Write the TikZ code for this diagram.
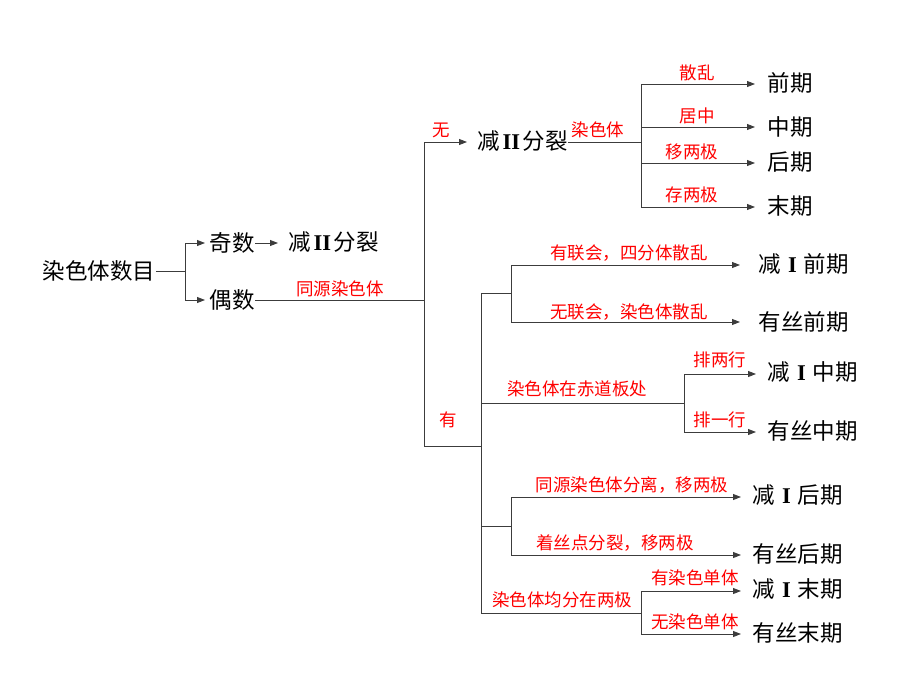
\documentclass[tikz,border=0pt]{standalone}
\usepackage{fontspec}
\newfontfamily\cjk{Noto Sans CJK SC}
\newfontfamily\rom{Liberation Serif}
\newcommand{\romI}{\makebox[1em]{\rom\bfseries I}}
\newcommand{\romII}{\makebox[1em]{\rom\bfseries II}}
\usetikzlibrary{arrows.meta}
\definecolor{lbl}{RGB}{255,0,0}
\definecolor{ln}{RGB}{60,60,60}
\begin{document}
\begin{tikzpicture}[x=1pt,y=-1pt,
  term/.style={font=\cjk\fontsize{22.5}{22.5}\selectfont,inner xsep=0.5pt,inner ysep=2pt,anchor=west,text=black},
  lab/.style={font=\cjk\fontsize{17.5}{17.5}\selectfont,text=lbl,inner sep=0pt},
  wire/.style={draw=ln,line width=0.9pt},
  arr/.style={wire,-{Triangle[length=8pt,width=6pt]},shorten >=#1},
  arr/.default=10pt]
\useasboundingbox (0,0) rectangle (920,690);
% nodes
\node[term] (root) at (42,271) {染色体数目};
\node[term] (odd) at (209,243) {奇数};
\node[term] (even) at (209,300) {偶数};
\node[term] (m2a) at (288,242) {减\romII 分裂};
\node[term] (m2b) at (477,141) {减\romII 分裂};
\node[term] (q1) at (767,83) {前期};
\node[term] (q2) at (767,127) {中期};
\node[term] (q3) at (767,162) {后期};
\node[term] (q4) at (767,206) {末期};
\node[term] (p1) at (758,264) {减\romI 前期};
\node[term] (p2) at (758,322) {有丝前期};
\node[term] (p3) at (767,372) {减\romI 中期};
\node[term] (p4) at (767,431) {有丝中期};
\node[term] (p5) at (752,495) {减\romI 后期};
\node[term] (p6) at (752,554) {有丝后期};
\node[term] (p7) at (752,589) {减\romI 末期};
\node[term] (p8) at (752,633) {有丝末期};
% junctions
\coordinate (j0) at (185,271);
\coordinate (j1) at (424,300);
\coordinate (jtop) at (424,142);
\coordinate (jbot) at (424,446);
\coordinate (j2) at (481,446);
\coordinate (a1) at (481,293);
\coordinate (a2) at (481,403);
\coordinate (a3) at (481,526);
\coordinate (a4) at (481,613);
\coordinate (t) at (641,142);
\coordinate (b1) at (511,293);
\coordinate (b2) at (684,403);
\coordinate (b3) at (511,526);
\coordinate (b4) at (641,613);
% connectors
\draw[wire] (root.east) -- (j0);
\draw[arr=4pt] (j0) |- (odd.west |- 0,243);
\draw[arr=4pt] (j0) |- (even.west |- 0,300);
\draw[arr=10pt] (odd.east |- 0,243) -- (m2a.west |- 0,243);
\draw[wire] (even.east |- 0,300) -- (j1);
\draw[wire] (jtop) -- (jbot);
\draw[arr=10pt] (jtop) -- (m2b.west |- 0,142);
\draw[wire] (jbot) -- (j2);
\draw[wire] (a1) -- (a4);
\draw[wire] (m2b.east |- 0,142) -- (t);
\draw[arr=12pt] (t) |- (q1.west |- 0,84);
\draw[arr=12pt] (t) |- (q2.west |- 0,127);
\draw[arr=12pt] (t) |- (q3.west |- 0,163);
\draw[arr=12pt] (t) |- (q4.west |- 0,207);
\draw[wire] (a1) -- (b1);
\draw[arr=18pt] (b1) |- (p1.west |- 0,265);
\draw[arr=18pt] (b1) |- (p2.west |- 0,322);
\draw[wire] (a2) -- (b2);
\draw[arr=11pt] (b2) |- (p3.west |- 0,374);
\draw[arr=11pt] (b2) |- (p4.west |- 0,432);
\draw[wire] (a3) -- (b3);
\draw[arr=11pt] (b3) |- (p5.west |- 0,497);
\draw[arr=11pt] (b3) |- (p6.west |- 0,555);
\draw[wire] (a4) -- (b4);
\draw[arr=11pt] (b4) |- (p7.west |- 0,591);
\draw[arr=11pt] (b4) |- (p8.west |- 0,634);
% labels
\node[lab] (l0) at (340,289) {同源染色体};
\node[lab] (l1) at (441,130) {无};
\node[lab] (l2) at (448,420) {有};
\node[lab] (l3) at (598,130) {染色体};
\node[lab] (l4) at (697,73) {散乱};
\node[lab] (l5) at (697,116) {居中};
\node[lab] (l6) at (692,152) {移两极};
\node[lab] (l7) at (692,195) {存两极};
\node[lab] (l8) at (629,253) {有联会，四分体散乱};
\node[lab] (l9) at (629,312) {无联会，染色体散乱};
\node[lab] (l10) at (577,389) {染色体在赤道板处};
\node[lab] (l11) at (720,360) {排两行};
\node[lab] (l12) at (720,420) {排一行};
\node[lab] (l13) at (632,485) {同源染色体分离，移两极};
\node[lab] (l14) at (615,543) {着丝点分裂，移两极};
\node[lab] (l15) at (562,600) {染色体均分在两极};
\node[lab] (l16) at (695,578) {有染色单体};
\node[lab] (l17) at (695,622) {无染色单体};
\end{tikzpicture}
\end{document}
